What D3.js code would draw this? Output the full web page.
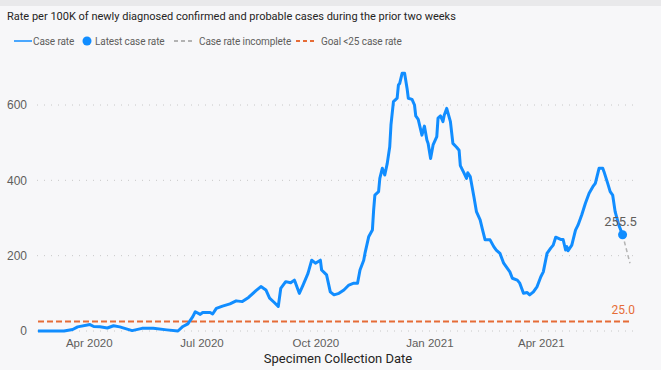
<!DOCTYPE html>
<html>
<head>
<meta charset="utf-8">
<script src="https://cdn.jsdelivr.net/npm/d3@7"></script>
<style>
  body { margin: 0; background: #f7f7f9; }
  svg { display: block; font-family: Roboto, "DejaVu Sans", sans-serif; }
</style>
</head>
<body>
<svg id="chart" width="661" height="370"></svg>
<script>
// Case rate per 100K
const caseDates = [
  "2020-02-20","2020-03-12","2020-03-19","2020-03-23","2020-04-02","2020-04-05","2020-04-10","2020-04-16",
  "2020-04-21","2020-04-26","2020-05-06","2020-05-14","2020-05-23","2020-06-03","2020-06-12","2020-06-16",
  "2020-06-20","2020-06-24","2020-06-26","2020-06-30","2020-07-02","2020-07-08","2020-07-10","2020-07-13",
  "2020-07-18","2020-07-24","2020-07-29","2020-08-03","2020-08-08","2020-08-14","2020-08-18","2020-08-22",
  "2020-08-25","2020-08-29","2020-09-01","2020-09-03","2020-09-07","2020-09-11","2020-09-14","2020-09-15",
  "2020-09-18","2020-09-21","2020-09-25","2020-09-28","2020-10-01","2020-10-05","2020-10-06","2020-10-10",
  "2020-10-13","2020-10-16","2020-10-20","2020-10-24","2020-10-28","2020-11-01","2020-11-04","2020-11-06",
  "2020-11-09","2020-11-10","2020-11-13","2020-11-16","2020-11-17","2020-11-18","2020-11-21","2020-11-22",
  "2020-11-24","2020-11-26","2020-11-28","2020-11-30","2020-12-01","2020-12-03","2020-12-06","2020-12-07",
  "2020-12-08","2020-12-10","2020-12-12","2020-12-14","2020-12-15","2020-12-18","2020-12-20","2020-12-21",
  "2020-12-23","2020-12-26","2020-12-28","2020-12-30","2020-12-31","2021-01-02","2021-01-04","2021-01-07",
  "2021-01-08","2021-01-10","2021-01-12","2021-01-13","2021-01-15","2021-01-18","2021-01-20","2021-01-23",
  "2021-01-25","2021-01-26","2021-01-29","2021-01-31","2021-02-01","2021-02-03","2021-02-06","2021-02-08",
  "2021-02-11","2021-02-13","2021-02-15","2021-02-19","2021-02-22","2021-02-24","2021-02-27","2021-03-02",
  "2021-03-05","2021-03-07","2021-03-09","2021-03-13","2021-03-15","2021-03-18","2021-03-21","2021-03-23",
  "2021-03-26","2021-03-29","2021-04-01","2021-04-03","2021-04-06","2021-04-09","2021-04-11","2021-04-13",
  "2021-04-17","2021-04-19","2021-04-21","2021-04-22","2021-04-23","2021-04-26","2021-04-29","2021-05-01",
  "2021-05-04","2021-05-07","2021-05-10","2021-05-13","2021-05-15","2021-05-18","2021-05-21","2021-05-22",
  "2021-05-25","2021-05-27","2021-05-29","2021-05-31","2021-06-03","2021-06-06"
];
const caseRates = [
  0, 0, 4, 11, 17, 12, 11, 8,
  14, 11, 1, 7, 7, 3, 0, 12,
  19, 38, 51, 44, 49, 49, 45, 60,
  66, 72, 80, 78, 89, 107, 118, 109,
  87, 75, 65, 113, 131, 128, 135, 127,
  100, 122, 153, 188, 180, 188, 162, 149,
  104, 96, 100, 109, 122, 127, 127, 162,
  188, 206, 250, 268, 321, 361, 370, 405,
  432, 414, 445, 489, 547, 609, 618, 653,
  657, 684, 684, 644, 618, 615, 600, 571,
  562, 520, 544, 507, 498, 458, 494, 516,
  565, 571, 556, 573, 591, 556, 498, 488,
  480, 439, 419, 405, 420, 410, 356, 317,
  295, 268, 242, 242, 224, 215, 206, 180,
  166, 157, 140, 135, 127, 100, 102, 96,
  104, 118, 144, 157, 206, 220, 228, 249,
  243, 243, 215, 224, 213, 228, 268, 281,
  308, 339, 366, 383, 392, 432, 432, 423,
  392, 370, 361, 317, 281, 255.5
];
// Incomplete tail (grey dashed)
const incompleteDates = ["2021-06-06", "2021-06-12"];
const incompleteRates = [255.5, 180];

const goalRate = 25;
const yTickValues = [0, 200, 400, 600];
const xTickDates = ["2020-04-01", "2020-07-01", "2020-10-01", "2021-01-01", "2021-04-01"];
const legendLabels = ["Case rate", "Latest case rate", "Case rate incomplete", "Goal <25 case rate"];

const parse = d3.timeParse("%Y-%m-%d");
const caseData = caseDates.map((d, i) => ({date: parse(d), value: caseRates[i]}));
const incompleteData = incompleteDates.map((d, i) => ({date: parse(d), value: incompleteRates[i]}));
const latest = caseData[caseData.length - 1];

const colors = {blue: "#118DFF", grey: "#B3B3B3", orange: "#E66C37", text: "#605E5C", dark: "#252423"};

const svg = d3.select("#chart");

// top strip
svg.append("rect").attr("x", 0).attr("y", 0).attr("width", 661).attr("height", 6).attr("fill", "#e9e9eb");

/* Scales */
const xScale = d3.scaleTime()
    .domain([caseData[0].date, incompleteData[incompleteData.length - 1].date])
    .range([38, 630]);
const yScale = d3.scaleLinear()
    .domain([0, 600])
    .range([331, 105]);

/* Title */
svg.append("text")
    .attr("x", 7).attr("y", 20)
    .attr("font-size", 11)
    .attr("fill", colors.dark)
    .text("Rate per 100K of newly diagnosed confirmed and probable cases during the prior two weeks");

/* Legend - marker x and text x for each entry */
const legendMarkX = [14, 83, 174, 296];
const legendTextX = [33, 95, 199, 321];
const legend = svg.append("g").attr("class", "legend");
legendLabels.forEach((label, i) => {
    let g = legend.append("g").attr("transform", "translate(0,41)");
    let mx = legendMarkX[i];
    if (i === 0) {
        g.append("line").attr("x1", mx).attr("x2", mx + 18).attr("stroke", colors.blue).attr("stroke-width", 1.5);
    } else if (i === 1) {
        g.append("circle").attr("cx", mx + 4).attr("cy", 0).attr("r", 4.5).attr("fill", colors.blue);
    } else {
        g.append("line").attr("x1", mx).attr("x2", mx + 18)
            .attr("stroke", i === 2 ? colors.grey : colors.orange)
            .attr("stroke-width", 2).attr("stroke-dasharray", "4,3");
    }
    g.append("text").attr("x", legendTextX[i]).attr("dy", "0.35em")
        .attr("font-size", 10).attr("letter-spacing", -0.1)
        .attr("fill", colors.text).text(label);
});

/* Gridlines */
svg.append("g")
    .selectAll("line")
    .data(yTickValues)
    .enter()
    .append("line")
    .attr("x1", 37).attr("x2", 637)
    .attr("y1", (d) => yScale(d)).attr("y2", (d) => yScale(d))
    .attr("stroke", "#c8c8c8").attr("stroke-width", 1)
    .attr("stroke-dasharray", "1,6");

/* Axes */
const yAxis = svg.append("g")
    .attr("transform", "translate(37,0)")
    .call(d3.axisLeft(yScale).tickValues(yTickValues).tickSize(0).tickPadding(10));
yAxis.select(".domain").remove();
yAxis.selectAll("text").attr("font-size", 12).attr("fill", colors.text).attr("font-family", "inherit");

const xAxis = svg.append("g")
    .attr("transform", "translate(0,331)")
    .call(d3.axisBottom(xScale)
        .tickValues(xTickDates.map(parse))
        .tickFormat(d3.timeFormat("%b %Y"))
        .tickSize(0).tickPadding(8));
xAxis.select(".domain").remove();
xAxis.selectAll("text").attr("font-size", 11.5).attr("fill", colors.text).attr("font-family", "inherit");

svg.append("text")
    .attr("x", 338).attr("y", 362.5)
    .attr("text-anchor", "middle")
    .attr("font-size", 13)
    .attr("fill", colors.dark)
    .text("Specimen Collection Date");

/* Goal line */
svg.append("line")
    .attr("x1", xScale(caseData[0].date)).attr("x2", xScale(incompleteData[incompleteData.length - 1].date))
    .attr("y1", yScale(goalRate)).attr("y2", yScale(goalRate))
    .attr("stroke", colors.orange).attr("stroke-width", 2)
    .attr("stroke-dasharray", "6,3");
svg.append("text")
    .attr("x", 635).attr("y", yScale(goalRate) - 8)
    .attr("text-anchor", "end")
    .attr("font-size", 12).attr("fill", colors.orange)
    .text(d3.format(".1f")(goalRate));

/* Lines */
const line = d3.line()
    .x((d) => xScale(d.date))
    .y((d) => yScale(d.value));

svg.append("path")
    .datum(incompleteData)
    .attr("fill", "none")
    .attr("stroke", colors.grey).attr("stroke-width", 1.5)
    .attr("stroke-dasharray", "4,3")
    .attr("d", line);

svg.append("path")
    .datum(caseData)
    .attr("fill", "none")
    .attr("stroke", colors.blue).attr("stroke-width", 3)
    .attr("stroke-linejoin", "round")
    .attr("d", line);

/* Latest point */
svg.append("circle")
    .attr("cx", xScale(latest.date)).attr("cy", yScale(latest.value))
    .attr("r", 4.5).attr("fill", colors.blue);
svg.append("text")
    .attr("x", xScale(latest.date) - 2).attr("y", yScale(latest.value) - 9)
    .attr("text-anchor", "middle")
    .attr("font-size", 13).attr("fill", colors.text)
    .text(latest.value);
</script>
</body>
</html>
